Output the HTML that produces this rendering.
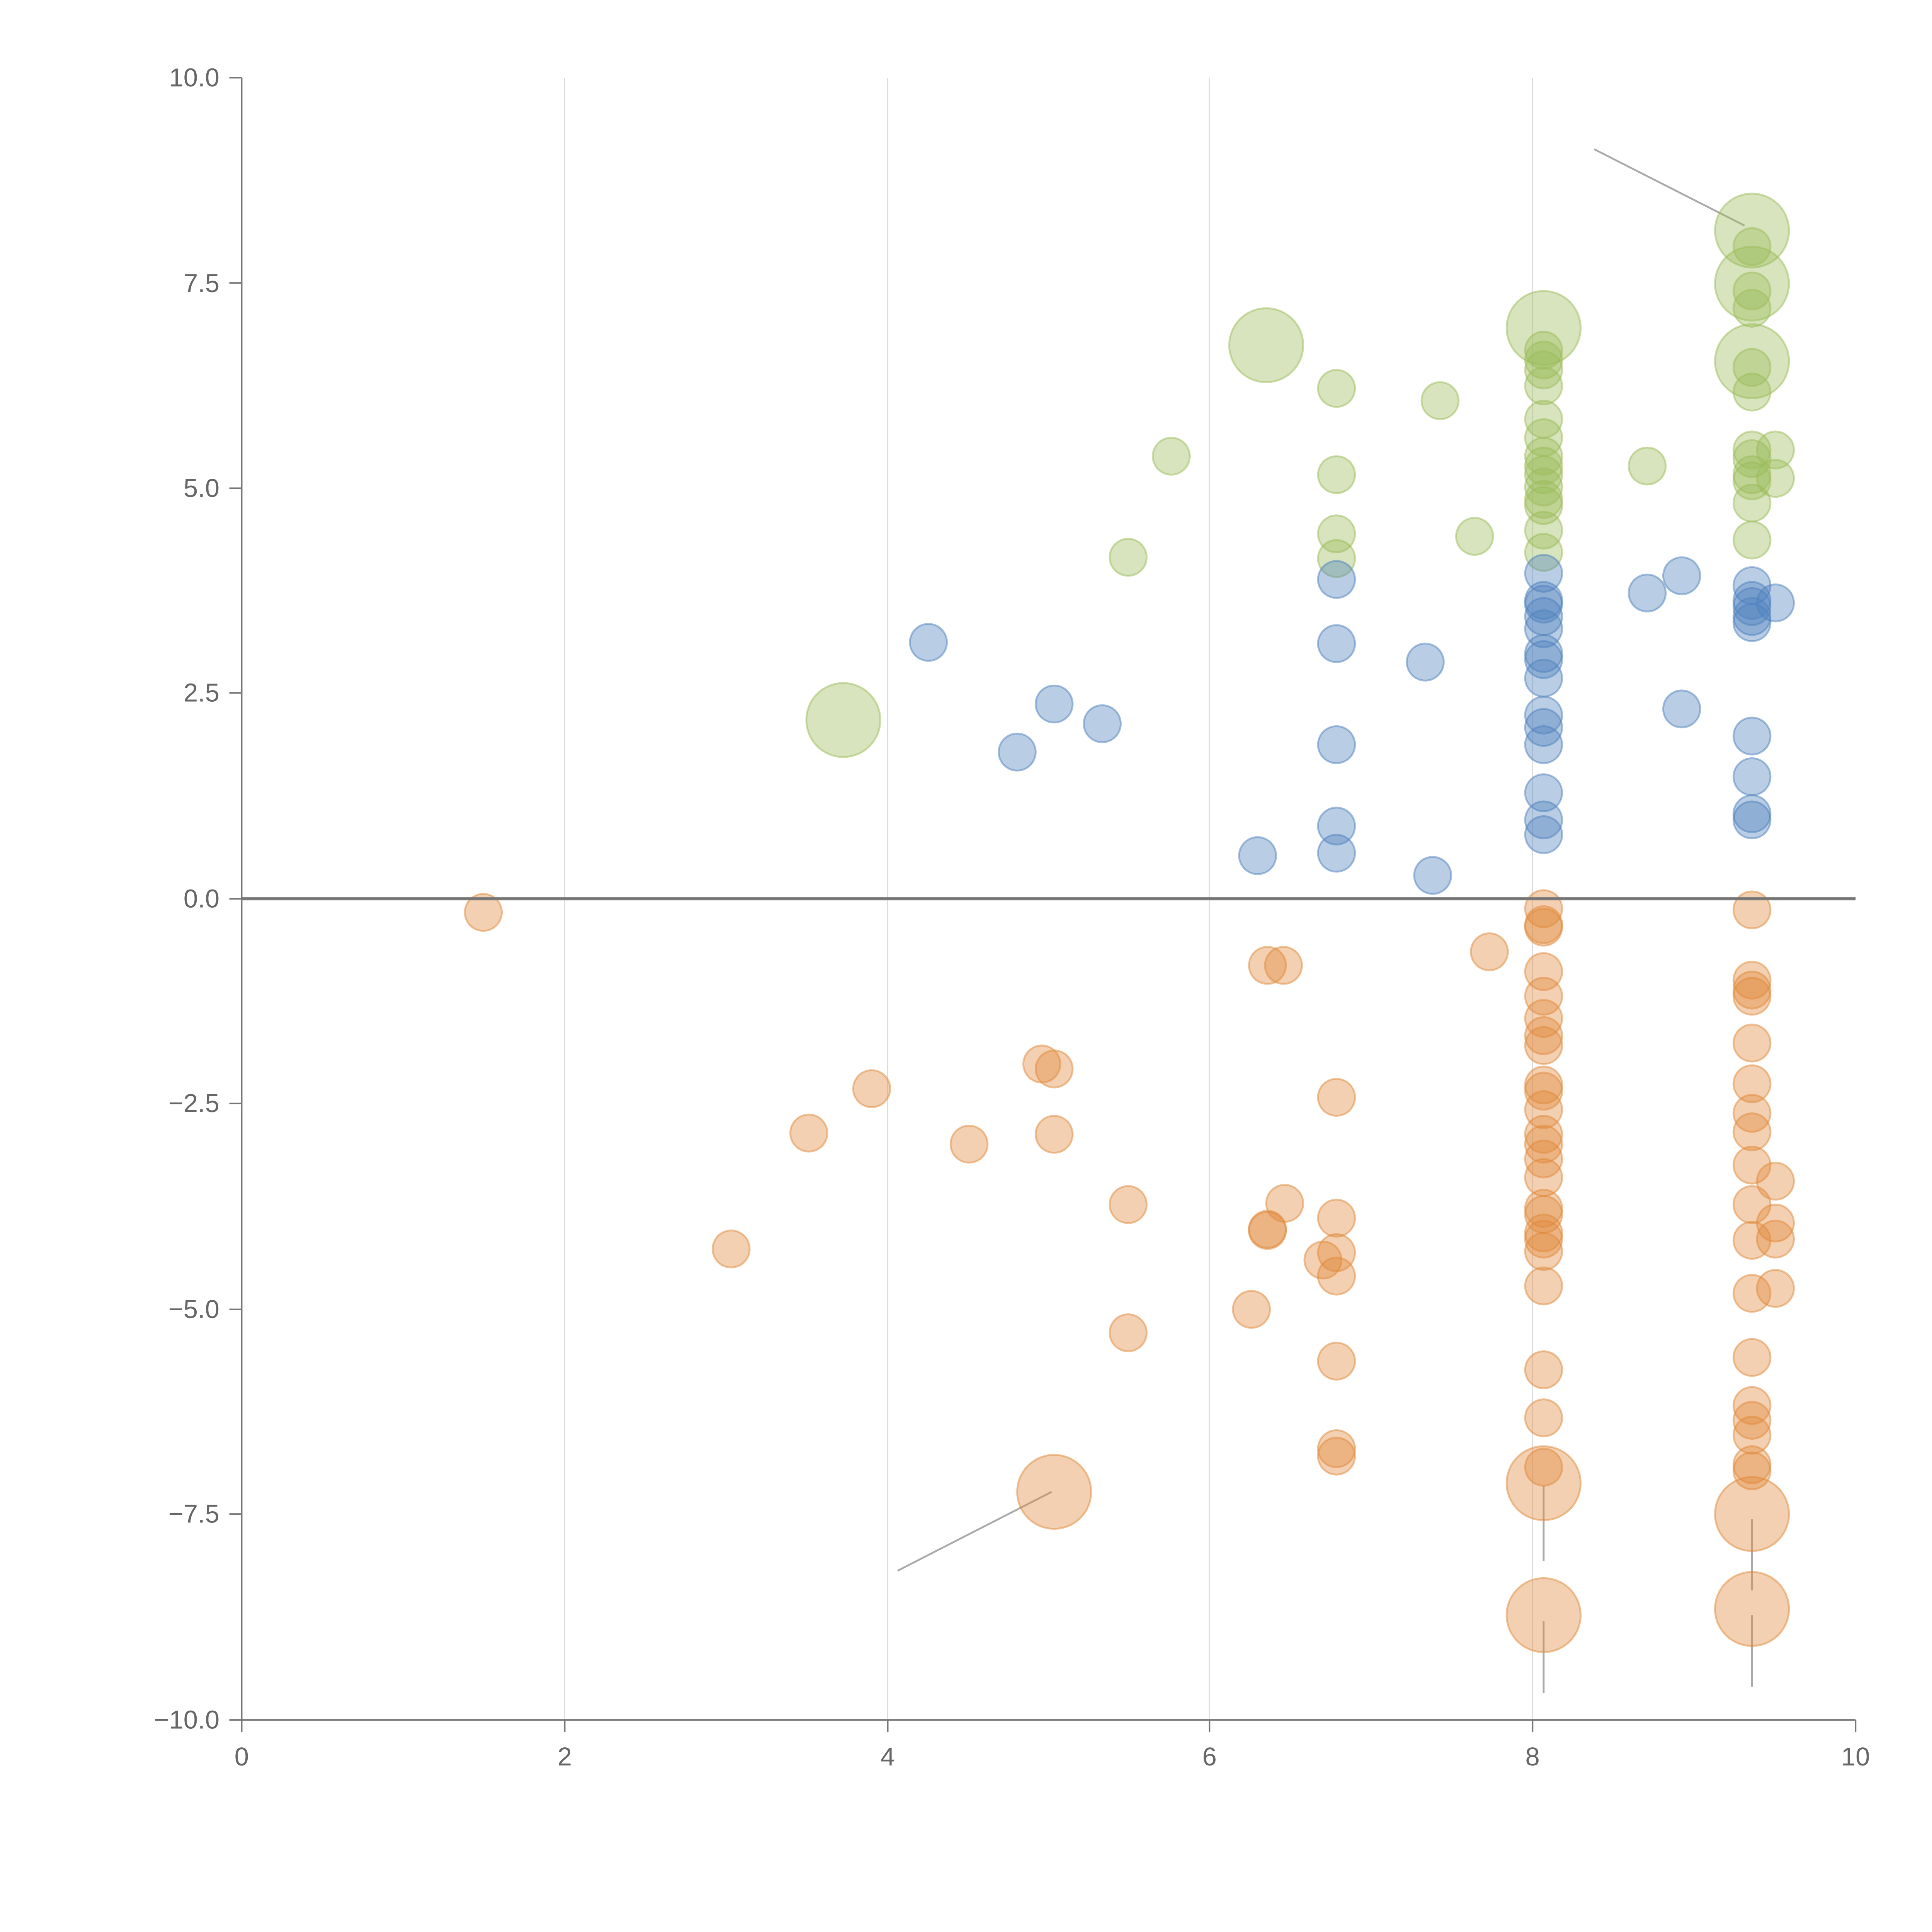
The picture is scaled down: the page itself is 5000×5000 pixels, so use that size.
<!DOCTYPE html>
<html><head><meta charset="utf-8"><style>
html,body{margin:0;padding:0;background:#fff;}
svg{display:block;}
text{font-family:"Liberation Sans",sans-serif;fill:#666;font-size:21px;}
</style></head><body>
<svg width="5000" height="5000" viewBox="0 0 1567 1567" xmlns="http://www.w3.org/2000/svg">
<rect width="1567" height="1567" fill="#fff"/>
<g stroke="#dcdcdc" stroke-width="1">
<line x1="458" y1="63" x2="458" y2="1395"/><line x1="720" y1="63" x2="720" y2="1395"/>
<line x1="981" y1="63" x2="981" y2="1395"/><line x1="1243" y1="63" x2="1243" y2="1395"/>
</g>
<g stroke="#777" stroke-width="1.3">
<line x1="196" y1="63" x2="196" y2="1395"/><line x1="196" y1="1395" x2="1505" y2="1395"/>
<line x1="186" y1="63" x2="196" y2="63"/><line x1="186" y1="229.5" x2="196" y2="229.5"/><line x1="186" y1="396" x2="196" y2="396"/><line x1="186" y1="562" x2="196" y2="562"/><line x1="186" y1="729" x2="196" y2="729"/><line x1="186" y1="895" x2="196" y2="895"/><line x1="186" y1="1062" x2="196" y2="1062"/><line x1="186" y1="1228" x2="196" y2="1228"/><line x1="186" y1="1395" x2="196" y2="1395"/>
<line x1="196" y1="1395" x2="196" y2="1405"/><line x1="458" y1="1395" x2="458" y2="1405"/><line x1="720" y1="1395" x2="720" y2="1405"/><line x1="981" y1="1395" x2="981" y2="1405"/><line x1="1243" y1="1395" x2="1243" y2="1405"/><line x1="1505" y1="1395" x2="1505" y2="1405"/>
</g>
<g text-anchor="end">
<text x="178" y="70">10.0</text><text x="178" y="237">7.5</text><text x="178" y="403">5.0</text><text x="178" y="569">2.5</text><text x="178" y="736">0.0</text><text x="178" y="902">−2.5</text><text x="178" y="1069">−5.0</text><text x="178" y="1235">−7.5</text><text x="178" y="1402">−10.0</text>
</g>
<g text-anchor="middle">
<text x="196" y="1432">0</text><text x="458" y="1432">2</text><text x="720" y="1432">4</text><text x="981" y="1432">6</text><text x="1243" y="1432">8</text><text x="1505" y="1432">10</text>
</g>
<g stroke="#aaa" stroke-width="1.5">
<line x1="1293" y1="121" x2="1415" y2="183"/><line x1="728" y1="1274" x2="853" y2="1210"/>
<line x1="1252" y1="1205" x2="1252" y2="1266"/><line x1="1252" y1="1315" x2="1252" y2="1373"/>
<line x1="1421" y1="1232" x2="1421" y2="1290"/><line x1="1421" y1="1310" x2="1421" y2="1368"/>
</g>
<g id="pts"></g>
<line x1="196" y1="729" x2="1505" y2="729" stroke="#777" stroke-width="2.5"/>
<script>
var g=document.getElementById('pts');
function c(x,y,r,f,s){var e=document.createElementNS('http://www.w3.org/2000/svg','circle');e.setAttribute('cx',x);e.setAttribute('cy',y);e.setAttribute('r',r);e.setAttribute('fill',f);e.setAttribute('fill-opacity','0.4');e.setAttribute('stroke',s);e.setAttribute('stroke-opacity','0.5');e.setAttribute('stroke-width','1.5');g.appendChild(e);}
var G='#9bbb59',B='#4f81bd',O='#e08a3c';
function col(x,ys,f){ys.forEach(function(y){c(x,y,15,f,f);});}
[[915,452],[950,370],[1084,315],[1084,385],[1084,433],[1084,453],[1168,325],[1196,435],[1336,378],[1440,365],[1440,388]].forEach(function(p){c(p[0],p[1],15,G,G);});
col(1252,[284,292,300,313,340,355,370,378,385,395,405,410,430,448],G);
col(1421,[200,236,250,298,318,365,372,385,390,408,438],G);
[[684,584],[1027,280],[1252,266],[1421,187],[1421,230],[1421,293]].forEach(function(p){c(p[0],p[1],30,G,G);});
[[753,521],[825,610],[855,571],[894,587],[1020,694],[1084,470],[1084,522],[1084,604],[1084,670],[1084,692],[1156,537],[1162,710],[1336,481],[1364,467],[1364,575],[1440,489]].forEach(function(p){c(p[0],p[1],15,B,B);});
col(1252,[465,487,490,500,510,530,535,550,580,590,604,643,665,677],B);
col(1421,[475,487,492,500,505,597,630,660,665],B);
[[392,740],[593,1013],[656,919],[707,883],[786,928],[845,863],[855,867],[855,920],[915,977],[915,1081],[1015,1062],[1028,783],[1041,783],[1028,997],[1028,998],[1042,976],[1073,1022],[1084,890],[1084,988],[1084,1016],[1084,1035],[1084,1104],[1084,1175],[1084,1181],[1208,772],[1440,958],[1440,992],[1440,1005],[1440,1045]].forEach(function(p){c(p[0],p[1],15,O,O);});
col(1252,[737,750,752,788,808,826,840,848,880,885,900,920,928,940,955,980,985,1000,1005,1015,1043,1111,1150,1190],O);
col(1421,[738,795,803,808,846,879,903,918,945,977,1006,1049,1101,1140,1152,1164,1188,1193],O);
[[855,1210],[1252,1203],[1252,1310],[1421,1228],[1421,1305]].forEach(function(p){c(p[0],p[1],30,O,O);});
</script>
</svg>
</body></html>
